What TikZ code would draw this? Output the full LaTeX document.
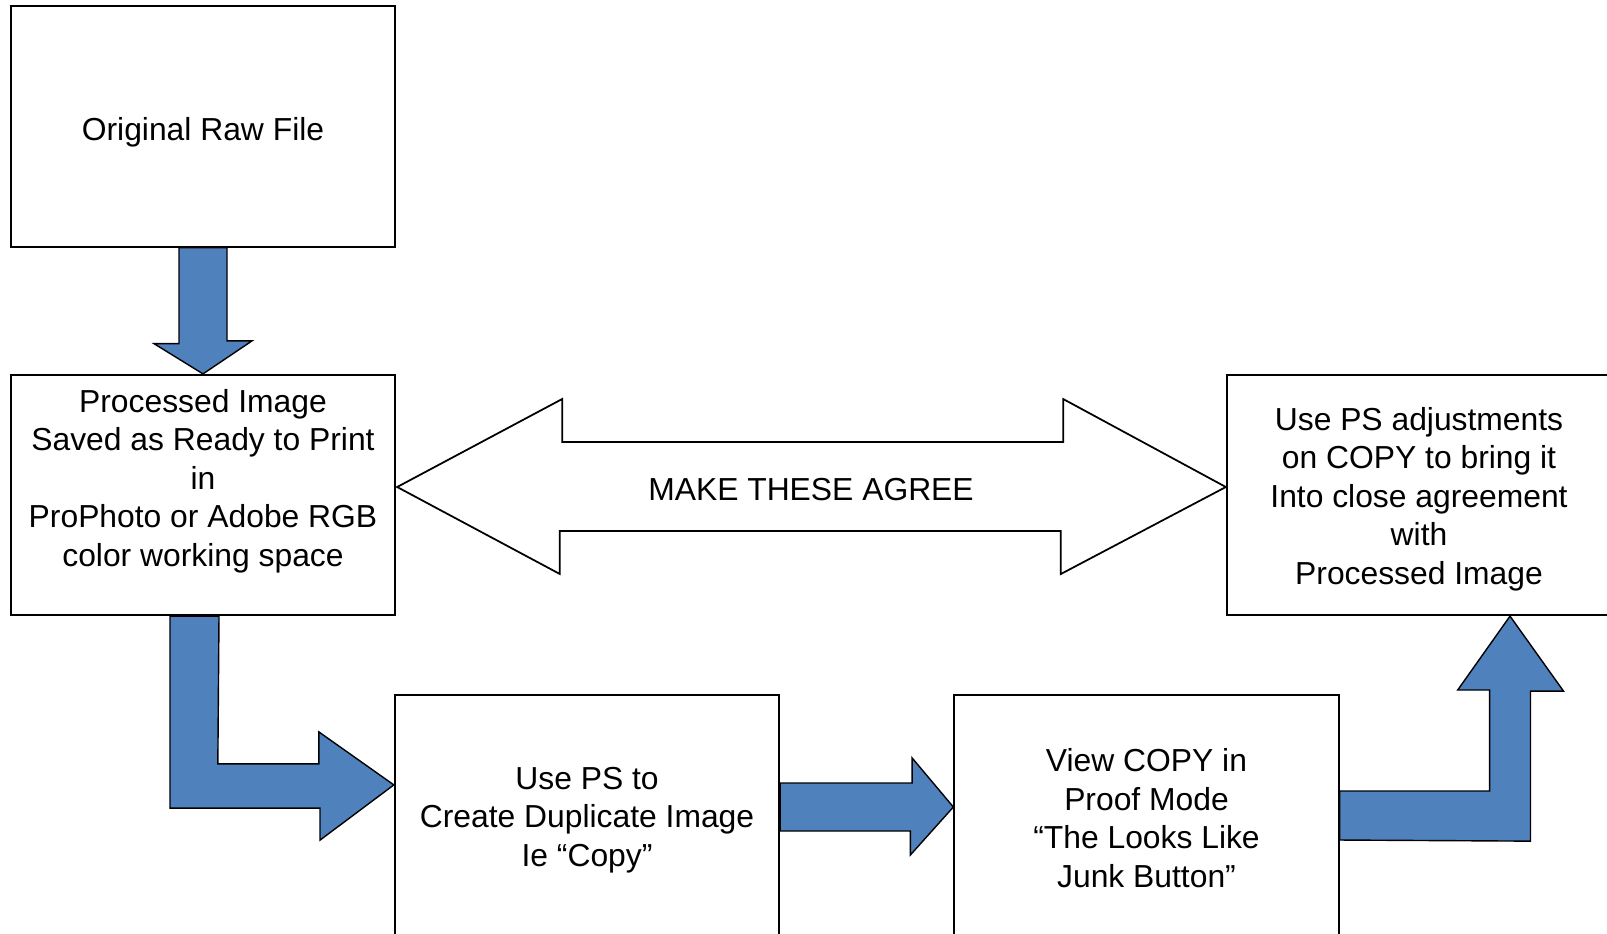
\documentclass[tikz,border=0pt]{standalone}
\usepackage{fontspec}
\setmainfont{Liberation Sans}
\usetikzlibrary{calc}
\definecolor{psblue}{HTML}{4F81BD}
\begin{document}
\begin{tikzpicture}[x=0.01cm,y=-0.01cm,font=\fontsize{9.05}{10.95}\selectfont]
 \tikzset{box/.style={draw,line width=0.6pt,fill=white,minimum width=3.84cm,minimum height=2.4cm,inner sep=0pt},
   boxtext/.style={align=center,inner sep=0pt},
   blockarrow/.style={draw=black,fill=psblue,line width=0.4pt,line join=miter},
   agreearrow/.style={draw=black,fill=white,line width=0.5pt,line join=miter}}
  \useasboundingbox (0,0) rectangle (1607,933);
  \node[box] (orig) at (203,126.5) {};
  \node[box] (proc) at (203,495) {};
  \node[box] (copyadj) at (1419,495) {};
  \node[box] (dup) at (587,815) {};
  \node[box] (view) at (1146.5,815) {};
  \node[boxtext] (origtext) at ($(orig.center)+(0,6)$) {Original Raw File};
  \node[boxtext] (proctext) at ($(proc.center)+(0,-14)$) {Processed Image\\Saved as Ready to Print\\in\\ProPhoto or Adobe RGB\\color working space};
  \node[boxtext] (copyadjtext) at ($(copyadj.center)+(0,4)$) {Use PS adjustments\\on COPY to bring it\\Into close agreement\\with\\Processed Image};
  \node[boxtext] (duptext) at ($(dup.center)+(0,5)$) {Use PS to\\Create Duplicate Image\\Ie “Copy”};
  \node[boxtext] (viewtext) at ($(view.center)+(0,3)$) {View COPY in\\Proof Mode\\“The Looks Like\\Junk Button”};
  \draw[blockarrow] ($(orig.south)+(-24,0)$) -- ++(0,96) -- ++(-25,0) -- (proc.north) -- ++(49,-33) -- ++(-25,0) -- ($(orig.south)+(24,0)$) -- cycle;
  \draw[blockarrow] ($(proc.south)+(-33,0)$) -- ++(0,192) -- ++(150,0) -- ++(0,32) -- ($(dup.north west)+(0,91)$) -- ++(-75,-53) -- ++(0,32) -- ++(-101,0) -- ($(proc.south)+(16,0)$) -- cycle;
  \draw[blockarrow] ($(dup.east)+(0,-32)$) -- ++(132,0) -- ++(0,-25) -- ($(view.west)+(0,-8)$) -- ++(-43,48) -- ++(0,-24) -- ($(dup.east)+(0,16)$) -- cycle;
  \draw[blockarrow] ($(view.east)+(0,-24)$) -- ++(150,0) -- ++(0,-101) -- ++(-32,0) -- ($(copyadj.south)+(91,0)$) -- ++(53.5,75) -- ++(-33,0) -- ++(0,150) -- ($(view.east)+(0,25)$) -- cycle;
  \draw[agreearrow] ($(proc.east)+(1,-8)$) -- ++(165,-88) -- ++(0,43) -- ++(501,0) -- ++(0,-43) -- ($(copyadj.west)+(0,-8)$) -- ++(-165,87) -- ++(0,-43) -- ++(-501,0) -- ++(0,43) -- cycle;
  \node (agree) at ($(proc.east)!0.5!(copyadj.west)+(0,-5)$) {MAKE THESE AGREE};
\end{tikzpicture}
\end{document}
